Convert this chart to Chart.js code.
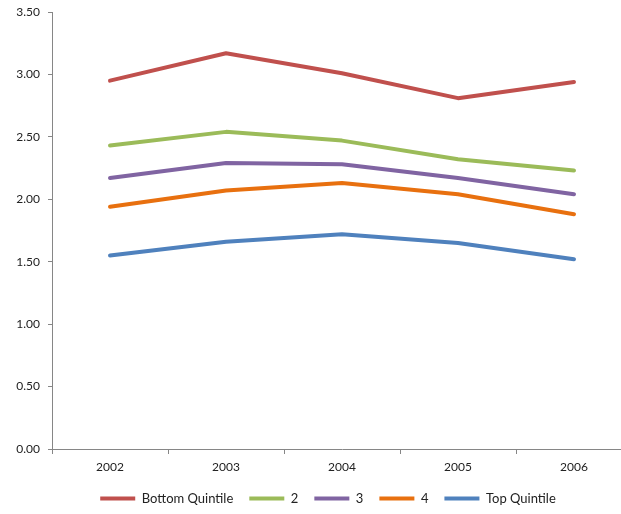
<!DOCTYPE html>
<html>
<head>
<meta charset="utf-8">
<script src="https://cdn.jsdelivr.net/npm/chart.js@4.4.0/dist/chart.umd.min.js"></script>
<style>
html,body{margin:0;padding:0;background:#fff;overflow:hidden;width:621px;height:514px;}
#wrap{position:absolute;left:0;top:0;width:632px;height:514px;}
</style>
</head>
<body>
<div id="wrap"><canvas id="c"></canvas></div>
<script>
const categories = ["2002", "2003", "2004", "2005", "2006"];
const bottomQuintile = [2.95, 3.17, 3.01, 2.81, 2.94];
const quintile2 = [2.43, 2.54, 2.47, 2.32, 2.23];
const quintile3 = [2.17, 2.29, 2.28, 2.17, 2.04];
const quintile4 = [1.94, 2.07, 2.13, 2.04, 1.88];
const topQuintile = [1.55, 1.66, 1.72, 1.65, 1.52];
const seriesNames = ["Bottom Quintile", "2", "3", "4", "Top Quintile"];
const seriesColors = ["#C0504D", "#9BBB59", "#8064A2", "#E8700F", "#4F81BD"];
const yTicks = [0, 0.5, 1, 1.5, 2, 2.5, 3, 3.5];

const seriesData = [bottomQuintile, quintile2, quintile3, quintile4, topQuintile];
const datasets = seriesData.map((d, i) => ({
  label: seriesNames[i],
  data: d,
  borderColor: seriesColors[i],
  backgroundColor: seriesColors[i],
  borderWidth: 4,
  pointRadius: 0,
  pointStyle: 'line',
  tension: 0,
  borderCapStyle: 'round',
  borderJoinStyle: 'round'
}));

const legendTweak = {
  id: 'legendTweak',
  afterInit(chart) {
    const lg = chart.legend;
    if (lg && !lg._patched) {
      const orig = lg.fit;
      lg.fit = function () { orig.call(this); this.height = 38; };
      lg._patched = true;
    }
  },
  afterLayout(chart) {
    if (chart.legend) { chart.legend.left += 12; chart.legend.right += 12; }
  }
};

Chart.defaults.font.family = "Lato, 'Open Sans', sans-serif";
Chart.defaults.font.size = 12;
Chart.defaults.color = '#222';

new Chart(document.getElementById('c'), {
  type: 'line',
  data: { labels: categories, datasets },
  options: {
    responsive: true,
    maintainAspectRatio: false,
    animation: false,
    layout: { padding: { top: 12, left: 0, right: 0, bottom: 0 } },
    plugins: {
      tooltip: { enabled: false },
      legend: {
        position: 'bottom',
        labels: {
          usePointStyle: true,
          pointStyleWidth: 35,
          boxWidth: 35,
          boxHeight: 4,
          padding: 16,
          color: '#222',
          font: { size: 13 }
        }
      }
    },
    scales: {
      x: {
        offset: true,
        grid: { display: true, drawOnChartArea: false, drawTicks: true, tickLength: 5, color: '#868686', offset: true },
        border: { color: '#868686', width: 1 },
        ticks: { padding: 6, color: '#222', maxRotation: 0 },
        afterFit(s) { s.height = 27; s.paddingLeft = 0; s.paddingRight = 0; }
      },
      y: {
        min: 0, max: 3.5,
        afterBuildTicks(s) { s.ticks = yTicks.map(v => ({ value: v })); },
        grid: { display: true, drawOnChartArea: false, drawTicks: true, tickLength: 4, color: '#868686' },
        border: { color: '#868686', width: 1 },
        ticks: { padding: 8, color: '#222', callback: v => Number(v).toFixed(2) },
        afterFit(s) { s.width = 52; s.paddingTop = 0; s.paddingBottom = 0; }
      }
    }
  },
  plugins: [legendTweak]
});
</script>
</body>
</html>
